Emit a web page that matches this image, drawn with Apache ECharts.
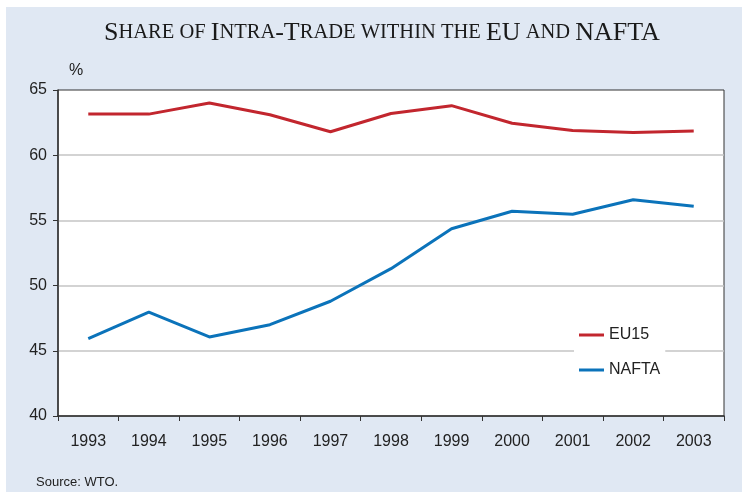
<!DOCTYPE html>
<html>
<head>
<meta charset="utf-8">
<script src="https://cdn.jsdelivr.net/npm/echarts@6/dist/echarts.min.js"></script>
<style>
  html, body { margin: 0; padding: 0; background: #fff; }
  #chart { width: 742px; height: 492px; }
</style>
</head>
<body>
<div id="chart"></div>
<script>
// data
const years = ['1993', '1994', '1995', '1996', '1997', '1998', '1999', '2000', '2001', '2002', '2003']
const eu15 = [63.15, 63.15, 64.0, 63.1, 61.8, 63.2, 63.8, 62.45, 61.9, 61.75, 61.85]
const nafta = [45.93, 47.97, 46.06, 47.0, 48.8, 51.3, 54.36, 55.7, 55.47, 56.58, 56.09]
const yTicks = { min: 40, max: 65, interval: 5 }

const RED = '#C2262E'
const BLUE = '#0B73BA'
const PANEL = '#E0E8F3'
const TEXT = '#222'
const sans = '"Liberation Sans", Arial, sans-serif'
const serif = '"Liberation Serif", "Times New Roman", serif'

const chart = echarts.init(document.getElementById('chart'))

chart.setOption({
  backgroundColor: '#fff',
  animation: false,
  title: {
    // small caps faked with two sizes
    text: '{b|S}{s|HARE OF }{b|I}{s|NTRA}{b|-T}{s|RADE WITHIN THE }{b|EU}{s| AND }{b|NAFTA}',
    left: 99,
    top: 15,
    textStyle: {
      fontWeight: 'normal',
      rich: {
        b: { fontFamily: serif, fontSize: 26, fontWeight: 'normal', color: '#1a1a1a' },
        s: { fontFamily: serif, fontSize: 20.5, fontWeight: 'normal', color: '#1a1a1a' }
      }
    }
  },
  graphic: [
    {
      type: 'rect',
      z: -10,
      silent: true,
      shape: { x: 6, y: 7, width: 736, height: 485 },
      style: { fill: PANEL }
    },
    {
      type: 'text',
      left: 69,
      top: 63,
      style: { text: '%', font: '16px ' + sans, fill: TEXT }
    },
    {
      type: 'text',
      left: 36,
      top: 476,
      style: { text: 'Source: WTO.', font: '13px ' + sans, fill: TEXT }
    }
  ],
  legend: {
    left: 574,
    top: 319,
    orient: 'vertical',
    backgroundColor: '#fff',
    padding: [8, 5, 8, 5],
    itemGap: 19,
    itemWidth: 25,
    itemHeight: 3,
    icon: 'rect',
    textStyle: { fontFamily: sans, fontSize: 16, color: TEXT },
    data: ['EU15', 'NAFTA']
  },
  grid: {
    left: 58,
    right: 18,
    top: 90,
    bottom: 76,
    show: true,
    backgroundColor: '#fff',
    borderColor: '#333',
    borderWidth: 1
  },
  xAxis: {
    type: 'category',
    data: years,
    boundaryGap: true,
    axisLine: { lineStyle: { color: '#333', width: 1.5 } },
    axisTick: { show: true, length: 5, alignWithLabel: false, lineStyle: { color: '#333' } },
    axisLabel: { fontFamily: sans, fontSize: 16, color: TEXT, margin: 18 }
  },
  yAxis: {
    type: 'value',
    min: yTicks.min,
    max: yTicks.max,
    interval: yTicks.interval,
    axisLine: { show: true, lineStyle: { color: '#333', width: 1.5 } },
    axisTick: { show: true, length: 5, lineStyle: { color: '#333' } },
    axisLabel: { fontFamily: sans, fontSize: 16, color: TEXT, margin: 11 },
    splitLine: {
      show: true,
      showMinLine: false,
      showMaxLine: false,
      lineStyle: { color: '#c4c4c4', width: 1.5 }
    }
  },
  series: [
    {
      name: 'EU15',
      type: 'line',
      data: eu15,
      symbol: 'none',
      color: RED,
      lineStyle: { width: 3, color: RED }
    },
    {
      name: 'NAFTA',
      type: 'line',
      data: nafta,
      symbol: 'none',
      color: BLUE,
      lineStyle: { width: 3, color: BLUE }
    }
  ]
})
</script>
</body>
</html>
